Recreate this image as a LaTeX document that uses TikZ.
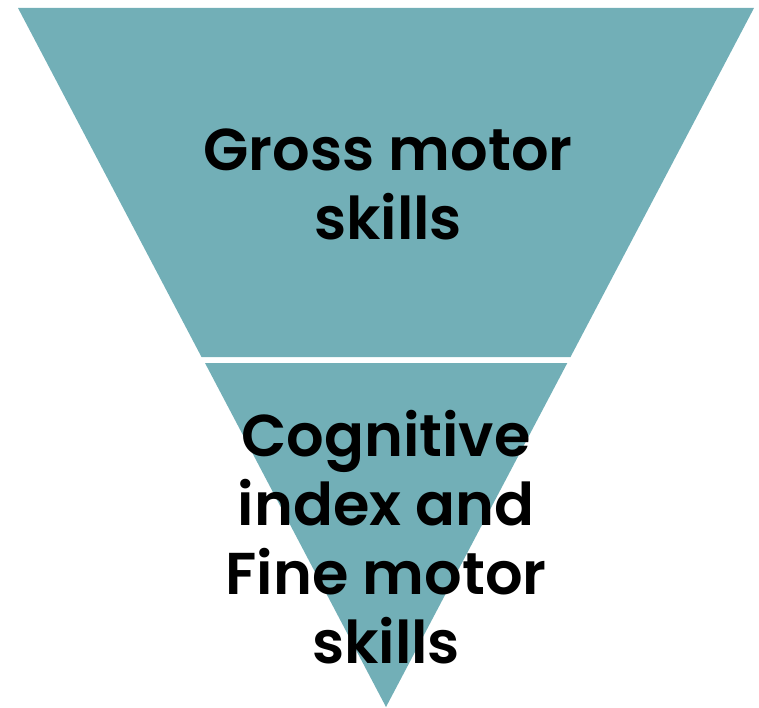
\documentclass[tikz,border=0pt]{standalone}
\usepackage{fontspec}
\setmainfont{Poppins}[BoldFont={Poppins SemiBold}]
\definecolor{tealfill}{RGB}{114,175,183}
\tikzset{
  section/.style={fill=tealfill, draw=none},
  label/.style={font=\bfseries\fontsize{59}{69}\selectfont, align=center, inner sep=0pt, text=black, anchor=base}
}
\begin{document}
\begin{tikzpicture}[x=1pt,y=-1pt]
\useasboundingbox (0,0) rectangle (759,708);
\path[section] (18,8) -- (754,8) -- (570.5,357) -- (201.5,357) -- cycle;
\path[section] (205,363) -- (567.3,363) -- (386,707) -- cycle;
\node[label] (top) at (388,240) {Gross motor\\skills};
\node[label] (bottom) at (386,663) {Cognitive\\index and\\Fine motor\\skills};
\end{tikzpicture}
\end{document}
